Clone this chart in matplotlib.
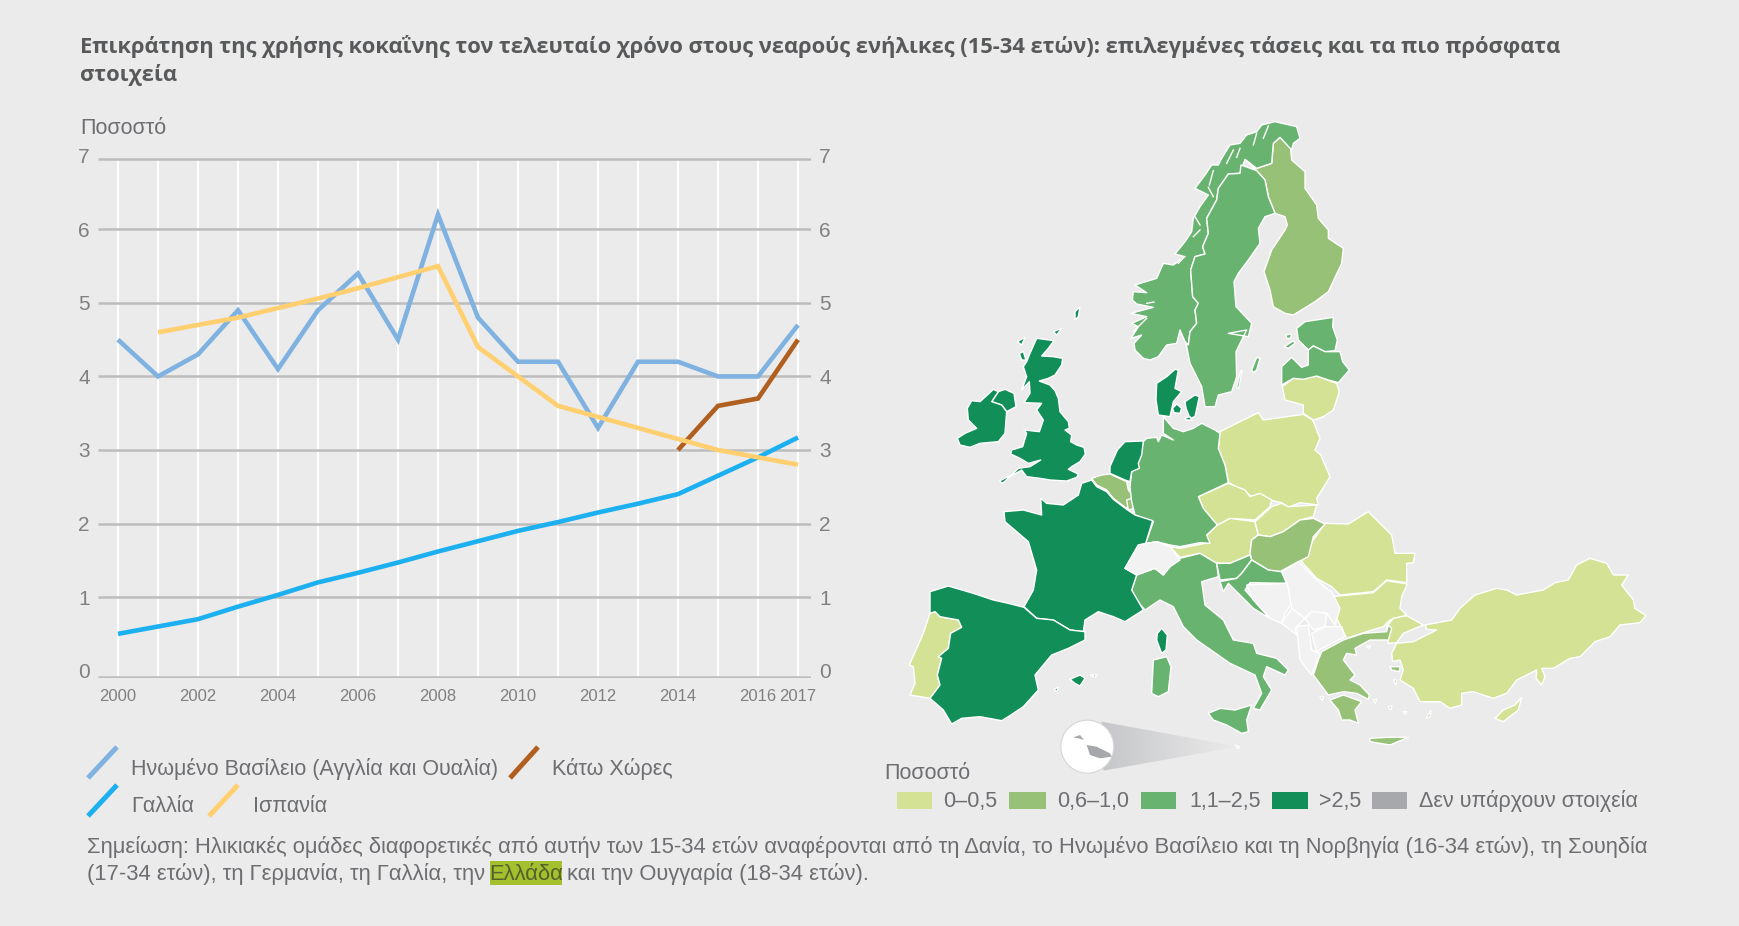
import numpy as np
import matplotlib
matplotlib.use("Agg")
import matplotlib.pyplot as plt
from matplotlib.patches import Polygon, Rectangle, Circle

# chart data
years = list(range(2000, 2018))
uk_values = [4.5, 4.0, 4.3, 4.9, 4.1, 4.9, 5.4, 4.5, 6.2, 4.8, 4.2, 4.2, 3.3, 4.2, 4.2, 4.0, 4.0, 4.7]
france_values = [0.5, 0.6, 0.7, 0.87, 1.03, 1.2, 1.33, 1.47, 1.62, 1.76, 1.9, 2.02, 2.15, 2.27, 2.4, 2.65, 2.9, 3.17]
spain_years = list(range(2001, 2018))
spain_values = [4.6, 4.7, 4.8, 4.93, 5.06, 5.2, 5.35, 5.5, 4.4, 4.0, 3.6, 3.45, 3.3, 3.15, 3.0, 2.9, 2.8]
nl_years = [2014, 2015, 2016, 2017]
nl_values = [3.0, 3.6, 3.7, 4.5]
year_labels = [2000, 2002, 2004, 2006, 2008, 2010, 2012, 2014, 2016, 2017]
y_ticks = [0, 1, 2, 3, 4, 5, 6, 7]

title_lines = ["Επικράτηση της χρήσης κοκαΐνης τον τελευταίο χρόνο στους νεαρούς ενήλικες (15-34 ετών): επιλεγμένες τάσεις και τα πιο πρόσφατα",
               "στοιχεία"]
class_labels = ["0–0,5", "0,6–1,0", "1,1–2,5", ">2,5", "Δεν υπάρχουν στοιχεία"]

BG = "#ebebeb"
TEXT = "#6d6e71"
C1, C2, C3, C4, NOINFO = "#d3e294", "#97c177", "#69b370", "#128f58", "#f2f2f2"
LEGEND_GREY = "#a7a8ab"

# map outlines. n = northern crop, s = southern crop, e = eastern crop
norway_n = [(810,780),(790,775),(765,750),(762,730),(785,705),(753,715),(775,680),(755,670),(800,650),(752,640),(820,622),(770,612),(757,600),(760,575),(800,578),(765,555),(830,535),(850,490),(880,495),(915,470),(885,462),(915,425),(935,395),(940,355),(960,320),(985,285),(945,265),(975,225),(995,195),(1015,195),(1025,175),(1050,135),(1080,130),(1100,105),(1130,95),(1145,75),(1185,65),(1250,80),(1260,115),(1240,130),(1235,150),(1200,112),(1180,130),(1175,190),(1130,205),(1095,178),(1080,220),(1045,222),(1015,265),(1010,300),(980,355),(985,400),(968,440),(975,462),(945,470),(932,510),(938,590),(955,610),(945,630),(950,670),(930,695),(925,735),(915,725),(900,690),(890,730),(860,735),(835,770)]
finland_n = [(1095,178),(1130,205),(1175,190),(1180,130),(1200,112),(1230,125),(1235,180),(1275,215),(1275,265),(1310,315),(1315,355),(1345,390),(1345,415),(1390,445),(1385,490),(1345,575),(1305,605),(1240,645),(1215,640),(1180,620),(1170,570),(1152,515),(1175,450),(1215,390),(1222,375),(1215,350),(1185,340),(1165,290),(1155,240),(1130,212)]
sweden_n = [(1083,195),(1130,212),(1155,240),(1165,290),(1185,340),(1155,350),(1135,385),(1140,430),(1105,480),(1075,520),(1062,545),(1068,620),(1115,670),(1105,710),(1045,700),(1100,690),(1068,755),(1070,830),(1055,875),(1015,885),(1005,920),(975,920),(965,860),(930,790),(918,730),(925,735),(930,695),(950,670),(945,630),(955,610),(938,590),(932,510),(945,470),(975,462),(968,440),(985,400),(980,355),(1010,300),(1015,265),(1045,222),(1080,220)]
gotland_n = [(1115,810),(1130,772),(1140,775),(1130,810),(1120,818)]
oland_n = [(1070,862),(1082,812),(1086,812),(1076,866)]
estonia_n = [(1250,685),(1275,665),(1360,652),(1358,680),(1372,720),(1365,752),(1335,755),(1300,738),(1285,750),(1255,720)]
saaremaa_n = [(1213,740),(1240,722),(1245,730),(1225,745)]
hiiumaa_n = [(1218,705),(1235,702),(1232,715),(1220,715)]
latvia_n = [(1205,855),(1205,800),(1235,772),(1265,802),(1285,795),(1285,750),(1300,738),(1335,755),(1380,755),(1388,785),(1408,810),(1375,848),(1345,840),(1310,828),(1270,838),(1240,835)]
lithuania_n = [(1207,860),(1240,835),(1310,828),(1370,850),(1378,875),(1360,930),(1330,950),(1300,960),(1270,940),(1270,915),(1215,900)]
poland_n = [(1020,995),(1080,965),(1135,938),(1150,960),(1270,943),(1298,960),(1320,1015),(1305,1050),(1322,1065),(1350,1130),(1310,1195),(1315,1215),(1260,1208),(1225,1222),(1205,1208),(1170,1200),(1140,1185),(1115,1190),(1095,1175),(1050,1150),(1045,1145),(1035,1095),(1015,1045)]
germany_n = [(850,950),(880,985),(910,995),(940,985),(965,970),(1005,990),(1020,1000),(1015,1045),(1035,1095),(1045,1148),(955,1190),(970,1225),(1012,1275),(980,1305),(990,1330),(960,1328),(900,1340),(870,1335),(830,1325),(797,1330),(820,1265),(765,1245),(755,1205),(750,1160),(755,1115),(775,1080),(790,1025),(800,1015),(830,1012),(835,1025),(845,1005),(880,1020),(850,1000)]
jutland_n = [(830,850),(860,830),(885,808),(895,810),(885,865),(905,875),(880,905),(870,950),(835,945),(828,900)]
zealand_n = [(915,905),(945,885),(958,890),(945,950),(930,955),(918,925)]
funen_n = [(878,925),(890,912),(905,925),(900,940),(882,938)]
lolland_n = [(915,955),(930,950),(935,960),(918,960)]
britain_n = [(470,715),(522,722),(505,745),(485,768),(520,770),(548,775),(545,795),(525,825),(505,835),(478,843),(510,855),(525,872),(535,895),(540,935),(565,965),(568,985),(555,990),(575,1005),(572,1025),(590,1035),(612,1042),(616,1062),(600,1085),(575,1100),(565,1108),(595,1122),(590,1132),(560,1143),(510,1140),(480,1135),(440,1130),(425,1110),(390,1130),(368,1150),(358,1143),(395,1125),(415,1105),(450,1100),(482,1080),(445,1090),(420,1075),(392,1062),(395,1050),(428,1040),(440,1000),(432,990),(478,995),(490,960),(470,930),(485,910),(432,908),(450,880),(448,845),(425,870),(440,830),(430,800),(440,785),(450,760)]
n_ireland_n = [(345,890),(355,875),(375,868),(402,880),(408,920),(380,935),(365,915),(335,905)]
ireland_n = [(275,902),(300,905),(322,885),(340,868),(355,875),(345,890),(335,905),(365,915),(380,935),(375,1000),(355,1025),(300,1030),(270,1042),(240,1035),(232,1015),(255,1000),(290,985),(265,960),(262,925)]
hebrides_n = [(412,725),(435,712),(425,735)]
lewis_n = [(418,760),(430,755),(438,780),(425,780)]
orkney_n = [(520,695),(545,685),(530,705)]
shetland_n = [(585,635),(600,620),(595,650),(585,660)]
netherlands_n = [(712,1050),(735,1025),(790,1023),(785,1065),(775,1090),(778,1105),(755,1115),(750,1145),(735,1140),(690,1120),(690,1100)]
fjords_n = [[(1150,115),(1165,78)], [(1120,135),(1130,100)], [(1070,172),(1080,145)], [(1040,190),(1060,150)],
            [(988,255),(1000,212)], [(1000,290),(985,262)], [(960,375),(945,350)], [(940,410),(960,390)],
            [(895,490),(912,472)], [(800,610),(822,606)], [(760,695),(800,655)]]

belgium_s = [(635,235),(665,225),(690,222),(740,245),(745,270),(760,290),(750,305),(740,325),(700,295),(680,270),(650,255)]
luxembourg_s = [(740,300),(755,295),(762,325),(745,330)]
france_s = [(605,250),(635,240),(650,260),(680,275),(700,298),(740,328),(765,345),(818,362),(797,430),(775,435),(735,505),(770,525),(755,570),(790,630),(735,665),(700,650),(655,635),(615,660),(610,695),(570,690),(520,660),(470,655),(432,620),(460,570),(470,510),(445,425),(375,365),(372,335),(430,330),(485,345),(482,295),(500,310),(550,315),(595,285)]
corsica_s = [(845,685),(862,705),(858,750),(845,760),(830,720),(832,700)]
switzerland_s = [(735,505),(775,435),(830,425),(870,440),(900,480),(870,500),(850,525),(825,505),(770,525)]
italy_s = [(770,525),(825,505),(850,525),(870,500),(900,475),(960,460),(1010,490),(1015,530),(965,545),(975,615),(1030,660),(1060,720),(1120,730),(1130,760),(1190,775),(1225,810),(1215,825),(1160,800),(1150,830),(1175,870),(1140,930),(1120,925),(1145,880),(1125,825),(1050,790),(1000,755),(950,720),(910,680),(880,620),(840,600),(795,630),(760,590),(755,570)]
sardinia_s = [(820,780),(860,770),(873,800),(865,875),(835,890),(815,880),(818,820)]
sicily_s = [(985,940),(1020,925),(1065,930),(1115,915),(1100,960),(1105,995),(1085,1000),(1040,975),(1000,960)]
spain_s = [(150,575),(205,558),(280,580),(340,600),(385,610),(432,622),(470,655),(520,660),(570,690),(615,695),(615,720),(565,745),(515,765),(465,825),(475,870),(430,920),(385,950),(365,962),(300,950),(245,955),(215,972),(190,930),(150,895),(180,855),(172,825),(185,775),(175,770),(205,745),(212,700),(245,682),(235,660),(180,650),(165,635),(150,640)]
portugal_s = [(150,640),(165,635),(180,650),(235,660),(245,682),(212,700),(205,745),(175,770),(185,775),(172,825),(180,855),(150,895),(90,885),(105,850),(100,800),(88,795),(130,700)]
mallorca_s = [(570,838),(600,825),(615,835),(600,858),(585,850)]
menorca_s = [(632,825),(650,825),(645,832)]
ibiza_s = [(522,868),(535,862),(530,875)]
austria_s = [(870,440),(900,445),(985,428),(978,408),(1012,375),(1050,355),(1125,365),(1135,405),(1115,420),(1110,465),(1050,490),(1010,490),(960,460),(900,472)]
czechia_s = [(955,290),(1045,250),(1095,270),(1110,290),(1140,280),(1175,300),(1170,320),(1125,360),(1050,355),(1012,375),(975,335)]
slovakia_s = [(1125,365),(1175,320),(1205,310),(1225,320),(1310,315),(1300,350),(1260,360),(1210,395),(1170,410),(1135,405)]
hungary_s = [(1135,405),(1170,410),(1210,395),(1260,360),(1300,355),(1335,372),(1300,410),(1285,470),(1255,485),(1200,515),(1165,510),(1115,480),(1110,460),(1115,420)]
slovenia_s = [(1010,490),(1050,490),(1110,465),(1115,480),(1085,520),(1070,535),(1020,540),(1015,515)]
croatia_s = [(1085,520),(1115,480),(1165,510),(1205,515),(1220,550),(1110,548),(1095,570),(1170,655),(1120,625),(1060,565),(1045,550),(1030,575),(1020,545),(1070,535)]
bosnia_s = [(1100,555),(1220,550),(1235,610),(1215,640),(1205,670),(1170,655),(1120,600)]
serbia_s = [(1205,515),(1255,485),(1300,530),(1345,570),(1355,575),(1380,625),(1365,675),(1340,640),(1295,635),(1275,655),(1235,625),(1225,560)]
kosovo_s = [(1275,655),(1295,635),(1340,640),(1335,680),(1300,690)]
montenegro_s = [(1205,670),(1235,625),(1275,655),(1245,685),(1250,705)]
albania_s = [(1250,680),(1285,675),(1295,750),(1320,760),(1295,825),(1260,780)]
macedonia_s = [(1295,700),(1335,680),(1385,680),(1395,710),(1345,735),(1310,755)]
malta_big_s = [(620,1035),(650,1040),(690,1060),(695,1070),(660,1075),(630,1065)]
malta_small_s = [(580,1012),(600,1005),(612,1020),(595,1015)]
malta_speck_s = [(1064,1036),(1078,1040),(1074,1046)]

romania_e = [(185,185),(220,120),(255,70),(325,72),(385,35),(455,105),(465,160),(525,160),(520,188),(500,190),(500,248),(440,240),(400,275),(300,285),(275,260),(230,235)]
bulgaria_e = [(275,290),(400,278),(440,242),(502,252),(485,290),(480,325),(500,345),(450,360),(430,380),(380,395),(320,415),(285,345)]
thrace_e = [(440,380),(460,355),(500,347),(550,375),(490,400),(470,428),(445,430)]
anatolia_e = [(555,375),(635,360),(660,325),(705,285),(770,265),(800,270),(830,285),(910,270),(945,248),(985,240),(1010,195),(1050,175),(1100,190),(1120,225),(1165,225),(1145,255),(1180,300),(1185,325),(1218,347),(1200,368),(1140,375),(1110,410),(1065,425),(1020,470),(990,475),(940,505),(905,505),(915,530),(905,555),(888,535),(890,510),(830,540),(800,580),(760,595),(700,575),(665,580),(665,615),(630,625),(600,605),(540,605),(520,565),(480,540),(490,510),(480,480),(458,485),(455,460),(470,430),(520,425),(590,390),(560,388)]
cyprus_e = [(765,655),(790,630),(825,615),(845,592),(835,630),(790,665)]
greece_e = [(245,455),(310,420),(370,400),(440,395),(445,375),(455,385),(445,420),(390,420),(345,445),(350,465),(320,460),(310,480),(345,525),(330,540),(360,555),(388,585),(385,598),(350,580),(310,575),(265,585),(220,525),(235,480)]
peloponnese_e = [(270,600),(310,585),(365,605),(345,630),(355,670),(330,660),(305,660),(295,630)]
crete_e = [(390,715),(440,712),(505,712),(450,735),(390,725)]
lesbos_e = [(450,500),(480,500),(478,515),(455,510)]
rhodes_e = [(558,655),(572,632),(570,650)]
chios_e = [(460,540),(470,540),(468,555)]
thassos_e = [(380,438),(392,438),(385,445)]
naxos_e = [(445,620),(456,618),(452,630)]
andros_e = [(400,600),(410,598),(406,610)]
kos_e = [(490,635),(500,635),(495,643)]
kefalonia_e = [(240,590),(250,590),(246,602)]

# country -> legend class
class_1_n = [lithuania_n, poland_n]
class_1_s = [portugal_s, austria_s, czechia_s, slovakia_s]
class_1_e = [romania_e, bulgaria_e, thrace_e, anatolia_e, cyprus_e]
class_2_n = [finland_n]
class_2_s = [belgium_s, luxembourg_s, hungary_s]
class_2_e = [greece_e, peloponnese_e, crete_e, lesbos_e, rhodes_e, chios_e, thassos_e, naxos_e, andros_e, kos_e, kefalonia_e]
class_3_n = [norway_n, sweden_n, gotland_n, oland_n, estonia_n, saaremaa_n, hiiumaa_n, latvia_n, germany_n]
class_3_s = [italy_s, sardinia_s, sicily_s, slovenia_s, croatia_s]
class_4_n = [jutland_n, zealand_n, funen_n, lolland_n, britain_n, n_ireland_n, ireland_n, hebrides_n, lewis_n, orkney_n, shetland_n, netherlands_n]
class_4_s = [france_s, corsica_s, spain_s, mallorca_s, menorca_s, ibiza_s]
class_none_s = [switzerland_s, bosnia_s, serbia_s, kosovo_s, montenegro_s, albania_s, macedonia_s, malta_speck_s]


def to_px(points, frame):
    # crops were 3x, so go back to figure pixels
    dx, dy = {"n": (0, 0), "s": (0, 900), "e": (1080, 1200)}[frame]
    pts = np.array(points, dtype=float) + [dx, dy]
    return np.column_stack([880 + pts[:, 0] / 3, 100 + pts[:, 1] / 3])


FONT = ["Liberation Sans", "DejaVu Sans"]
LEG_SIZE = 15.5
NOTE_SIZE = 15.8

fig = plt.figure(figsize=(17.4, 9.26), dpi=100, facecolor=BG)

page = fig.add_axes([0, 0, 1, 1])
page.set_xlim(0, 1740)
page.set_ylim(926, 0)
page.axis("off")

# line chart, the 0 and 7 rules sit a bit off the regular scale in the original
ax = fig.add_axes([98 / 1740, 1 - 678 / 926, (811 - 98) / 1740, (678 - 155.8) / 926], facecolor="none")
ax.set_xlim(1999.5, 2017.325)
ax.set_ylim(-0.1, 7)
for s in ax.spines.values():
    s.set_visible(False)
ax.vlines(years, -0.08, 6.96, color="white", lw=1.5, zorder=1)
ax.hlines([-0.08, 1, 2, 3, 4, 5, 6, 6.96], 1999.5, 2017.325, color="#bdbdbd", lw=1.8, zorder=2)
ax.set_xticks(years)
ax.set_xticklabels([str(y) if y in year_labels else "" for y in years], family=FONT, fontsize=12, color="#808080")
ax.set_yticks(y_ticks)
ax.set_yticklabels([str(v) for v in y_ticks], family=FONT, fontsize=15, color="#808080")
ax.tick_params(axis="both", length=0)
ax.tick_params(axis="x", pad=8)
ax.tick_params(axis="y", pad=6, labelright=True)

line_kw = dict(lw=3.3, solid_joinstyle="miter", solid_capstyle="butt", zorder=3)
ax.plot(years, uk_values, color="#7fb2e0", **line_kw)
ax.plot(years, france_values, color="#1cb0f0", **line_kw)
ax.plot(nl_years, nl_values, color="#b05f1e", **line_kw)
ax.plot(spain_years, spain_values, color="#ffcf70", **line_kw)

# title and small labels
page.text(80, 46, title_lines[0], family="Open Sans", fontweight="bold", fontsize=15.78, color="#58595b", va="center")
page.text(80, 75, title_lines[1], family="Open Sans", fontweight="bold", fontsize=15.78, color="#58595b", va="center")
page.text(80, 134, "Ποσοστό", family=FONT, fontsize=LEG_SIZE, color=TEXT, va="baseline")

# chart legend
leg_swatches = [(88, 117, 778, 747, "#7fb2e0"), (510, 538, 778, 747, "#b05f1e"),
                (88, 117, 816, 785, "#1cb0f0"), (209, 238, 816, 785, "#ffcf70")]
for x0, x1, y0, y1, col in leg_swatches:
    page.plot([x0, x1], [y0, y1], color=col, lw=3.6, solid_capstyle="butt")
leg_text = [(131, 775, "Ηνωμένο Βασίλειο (Αγγλία και Ουαλία)"), (552, 775, "Κάτω Χώρες"),
            (131, 812, "Γαλλία"), (253, 812, "Ισπανία")]
for x, y, s in leg_text:
    page.text(x, y, s, family=FONT, fontsize=LEG_SIZE, color=TEXT, va="baseline")

# note
page.add_patch(Rectangle((490, 861), 72, 24, color="#a5c02f", lw=0, zorder=1))
page.text(87, 853, "Σημείωση: Ηλικιακές ομάδες διαφορετικές από αυτήν των 15-34 ετών αναφέρονται από τη Δανία, το Ηνωμένο Βασίλειο και τη Νορβηγία (16-34 ετών), τη Σουηδία",
          family=FONT, fontsize=NOTE_SIZE, color=TEXT, va="baseline", zorder=2)
page.text(87, 880, "(17-34 ετών), τη Γερμανία, τη Γαλλία, την", family=FONT, fontsize=NOTE_SIZE, color=TEXT, va="baseline", zorder=2)
page.text(526, 880, "Ελλάδα", family=FONT, fontsize=NOTE_SIZE, color="#55602a", va="baseline", ha="center", zorder=2)
page.text(567, 880, "και την Ουγγαρία (18-34 ετών).", family=FONT, fontsize=NOTE_SIZE, color=TEXT, va="baseline", zorder=2)

# map
map_groups = [(class_1_n, "n", C1), (class_1_s, "s", C1), (class_1_e, "e", C1),
              (class_2_n, "n", C2), (class_2_s, "s", C2), (class_2_e, "e", C2),
              (class_3_n, "n", C3), (class_3_s, "s", C3),
              (class_4_n, "n", C4), (class_4_s, "s", C4),
              (class_none_s, "s", NOINFO)]
for shapes, frame, col in map_groups:
    for shape in shapes:
        page.add_patch(Polygon(to_px(shape, frame), closed=True, facecolor=col, edgecolor="white", lw=1.0, joinstyle="round", zorder=3))
for seg in fjords_n:
    xy = to_px(seg, "n")
    page.plot(xy[:, 0], xy[:, 1], color="white", lw=1.0, zorder=3.5)

# Malta inset with its fading cone
cone = Polygon(to_px([(665, 965), (1075, 1040), (670, 1112)], "s"), closed=True, facecolor="none", edgecolor="none", zorder=3)
page.add_patch(cone)
cone_x = to_px([(640, 0), (1075, 0)], "s")[:, 0]
cone_y = to_px([(0, 960), (0, 1120)], "s")[:, 1]
grad = page.imshow(np.linspace(0, 1, 200)[None, :], extent=[cone_x[0], cone_x[1], cone_y[1], cone_y[0]],
                   cmap=matplotlib.colors.LinearSegmentedColormap.from_list("cone", ["#c3c4c7", BG]), aspect="auto", zorder=3)
grad.set_clip_path(cone)
page.set_xlim(0, 1740)
page.set_ylim(926, 0)
cx, cy = to_px([(622, 1040)], "s")[0]
page.add_patch(Circle((cx, cy), 26.5, facecolor="white", edgecolor="#d5d5d5", lw=0.8, zorder=4))
for shape in [malta_big_s, malta_small_s]:
    page.add_patch(Polygon(to_px(shape, "s"), closed=True, facecolor=LEGEND_GREY, edgecolor="none", zorder=5))

# map legend
page.text(884, 779, "Ποσοστό", family=FONT, fontsize=LEG_SIZE, color=TEXT, va="baseline")
swatch_x = [(897, 932), (1009, 1046), (1141, 1176), (1272, 1308), (1372, 1407)]
swatch_col = [C1, C2, C3, C4, LEGEND_GREY]
label_x = [943, 1057, 1189, 1319, 1419]
for (x0, x1), col, tx, s in zip(swatch_x, swatch_col, label_x, class_labels):
    page.add_patch(Rectangle((x0, 792), x1 - x0, 17, color=col, lw=0))
    page.text(tx, 807, s, family=FONT, fontsize=LEG_SIZE, color=TEXT, va="baseline")

fig.savefig("out.png", dpi=100, facecolor=BG)
